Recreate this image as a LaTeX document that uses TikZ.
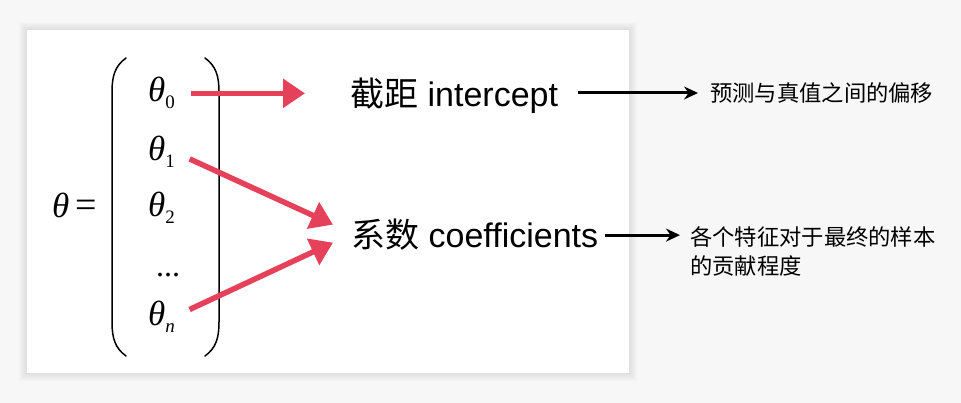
\documentclass[tikz,border=0pt]{standalone}
\usepackage{fontspec}
\setmainfont{Liberation Sans}
\newfontfamily\cjk{Noto Sans CJK SC}
\newfontfamily\tms{Liberation Serif}
\usetikzlibrary{arrows.meta}
\definecolor{bg}{RGB}{247,247,247}
\definecolor{redarrow}{RGB}{229,65,90}
\newcommand\mysub[1]{\raisebox{-7pt}{\fontsize{19}{19}\selectfont #1}}
\tikzset{
  redarr/.style={draw=redarrow, line width=5.5pt, -{Triangle[length=22pt,width=28pt]}},
  blkarr/.style={draw=black, line width=3pt, -{Stealth[length=14pt,width=13pt]}},
  entry/.style={inner sep=0pt, anchor=base west, font=\fontsize{35}{35}\selectfont\tms},
  mainlbl/.style={inner sep=0pt, anchor=base west, font=\fontsize{34}{34}\selectfont},
  note/.style={inner sep=0pt, font=\fontsize{22.3}{29}\selectfont\cjk, align=left},
  paren/.style={line width=1.5pt, line cap=round}
}
\begin{document}
\begin{tikzpicture}[x=1pt,y=-1pt]
\fill[bg] (0,0) rectangle (961,403);
\useasboundingbox (0,0) rectangle (961,403);
% card with soft shadow
\foreach \i in {1,...,8}
  \fill[black, opacity=0.012] (27-\i,30-\i) rectangle (629+\i,373+\i);
\fill[white] (27,30) rectangle (629,373);
% parentheses
\draw[paren] (126,58) .. controls (115,66) and (112,76) .. (112,92) -- (112,322) .. controls (112,338) and (115,348) .. (126,356);
\draw[paren] (205,58) .. controls (216,66) and (219,76) .. (219,92) -- (219,322) .. controls (219,338) and (216,348) .. (205,356);
% entries
\node[entry] (lhs) at (52,218) {\itshape θ\upshape\,{\fontsize{38}{38}\selectfont =}};
\node[entry] (t0) at (148,102) {\itshape θ\upshape\mysub{0}};
\node[entry] (t1) at (148,161) {\itshape θ\upshape\mysub{1}};
\node[entry] (t2) at (148,217) {\itshape θ\upshape\mysub{2}};
\node[entry, font=\fontsize{32}{32}\selectfont\tms] (tdots) at (156,277) {...};
\node[entry] (tn) at (148,325) {\itshape θ\mysub{n}};
% main labels
\node[mainlbl] (ic) at (350,107) {{\cjk 截距} intercept};
\node[mainlbl] (co) at (351,248) {{\cjk 系数} coefficients};
% notes
\node[note, anchor=west] (d1) at (710,93) {预测与真值之间的偏移};
\node[note, anchor=north west] (d2) at (690,226) {各个特征对于最终的样本\\的贡献程度};
% red arrows
\draw[redarr, shorten <=16pt, shorten >=45pt] (t0.east) -- (t0.east -| ic.west);
\draw[redarr, shorten <=16pt] (t1.east) -- ([xshift=-18pt,yshift=10.5pt]co.west);
\draw[redarr, shorten <=16pt] (tn.east) -- ([xshift=-18pt,yshift=-7.5pt]co.west);
% black arrows
\draw[blkarr, shorten <=20pt, shorten >=12pt] (d1.west -| ic.east) -- (d1.west);
\draw[blkarr, shorten <=7pt, shorten >=10pt] (co.east) -- (co.east -| d2.west);
\end{tikzpicture}
\end{document}
